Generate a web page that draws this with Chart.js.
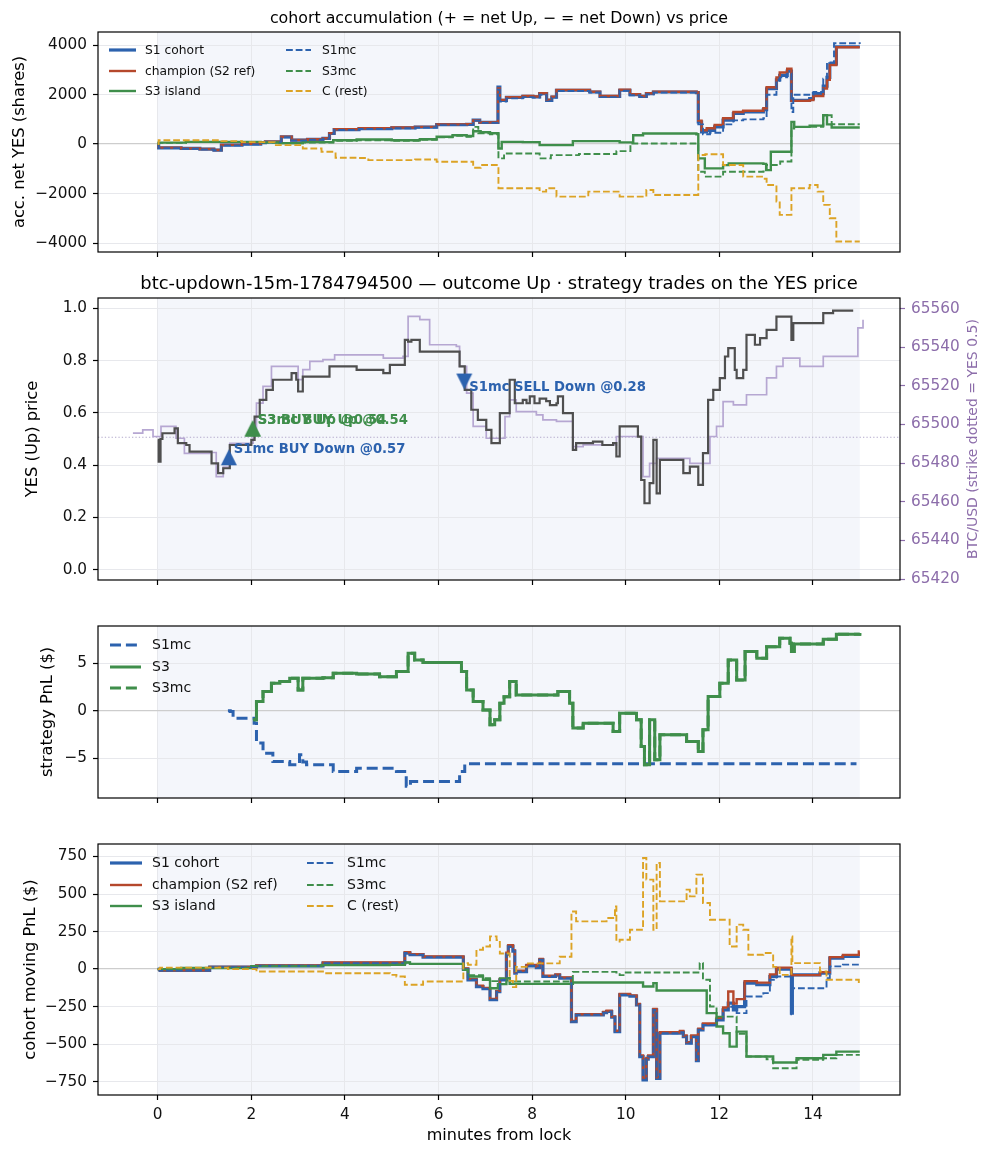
<!DOCTYPE html>
<html>
<head>
<meta charset="utf-8">
<script src="https://cdn.jsdelivr.net/npm/chart.js@4.4.1/dist/chart.umd.min.js"></script>
<style>
  html, body { margin: 0; padding: 0; background: #fff; }
  #wrap { position: relative; width: 993px; height: 1156px; overflow: hidden; }
  canvas { position: absolute; left: 0; }
</style>
</head>
<body>
<div id="wrap">
  <canvas id="c1" width="993" height="270" style="top:0px"></canvas>
  <canvas id="c2" width="993" height="336" style="top:262px"></canvas>
  <canvas id="c3" width="993" height="210" style="top:606px"></canvas>
  <canvas id="c4" width="993" height="336" style="top:820px"></canvas>
</div>
<script>
// ---- data: [minutes from lock, value] pairs ----
const xTicks = [0, 2, 4, 6, 8, 10, 12, 14];

// panel 1: cohort accumulation (shares)
const accS1 = [[0,0],[0.02,-150],[0.5,-175],[0.9,-200],[1.2,-240],[1.36,-40],[1.8,0],[2.2,60],[2.3,90],[2.64,295],[2.86,160],[3.2,190],[3.53,230],[3.67,430],[3.77,590],[4.3,630],[5.0,660],[5.5,690],[5.96,790],[6.6,800],[6.74,970],[6.88,880],[7.27,2310],[7.31,1770],[7.45,1890],[7.8,1930],[8.02,1910],[8.16,2040],[8.31,1770],[8.42,1900],[8.52,2180],[9.23,2110],[9.45,1930],[9.87,2180],[10.09,2000],[10.3,1930],[10.44,2040],[10.59,2110],[11.51,2080],[11.55,900],[11.62,490],[11.73,560],[11.9,700],[12.08,970],[12.3,1240],[12.51,1300],[12.94,1400],[13.01,2240],[13.22,2600],[13.29,2780],[13.45,2950],[13.54,1770],[13.93,1840],[14.01,2040],[14.22,2350],[14.3,2700],[14.36,3250],[14.5,3940],[15.0,3940]];
const accChamp = [[0,0],[0.02,-140],[0.5,-170],[0.9,-195],[1.2,-235],[1.36,-30],[1.8,10],[2.2,70],[2.3,100],[2.64,300],[2.86,170],[3.2,200],[3.53,240],[3.67,440],[3.77,600],[4.3,640],[5.0,670],[5.5,700],[5.96,800],[6.6,810],[6.74,960],[6.88,880],[7.27,2250],[7.31,1790],[7.45,1900],[7.8,1950],[8.02,1930],[8.16,2060],[8.31,1800],[8.42,1920],[8.52,2190],[9.23,2120],[9.45,1950],[9.87,2200],[10.09,2020],[10.3,1950],[10.44,2060],[10.59,2120],[11.51,2100],[11.55,950],[11.62,560],[11.73,640],[11.9,780],[12.08,1050],[12.3,1300],[12.51,1350],[12.94,1450],[13.01,2300],[13.22,2700],[13.29,2900],[13.45,3050],[13.54,1750],[13.93,1780],[14.01,1950],[14.22,2250],[14.3,2600],[14.36,3200],[14.5,3920],[15.0,3920]];
const accS1mc = [[0,0],[0.02,-160],[0.5,-185],[0.9,-210],[1.2,-250],[1.36,-50],[1.8,-10],[2.2,50],[2.3,80],[2.64,280],[2.86,150],[3.2,180],[3.53,220],[3.67,420],[3.77,570],[4.3,610],[5.0,640],[5.5,670],[5.96,770],[6.6,780],[6.74,950],[6.88,860],[7.27,2200],[7.31,1720],[7.45,1850],[7.8,1900],[8.02,1880],[8.16,2000],[8.31,1740],[8.42,1880],[8.52,2150],[9.23,2090],[9.45,1900],[9.87,2160],[10.09,1980],[10.3,1910],[10.44,2020],[10.59,2090],[11.51,2060],[11.55,800],[11.65,400],[11.8,460],[12.08,800],[12.3,960],[12.51,1000],[12.94,1050],[13.01,2000],[13.22,2500],[13.29,2700],[13.45,2850],[13.54,1300],[13.58,2000],[14.01,2110],[14.22,2650],[14.3,3300],[14.45,4080],[15.0,4050]];
const accS3 = [[0,0],[0.02,60],[0.6,90],[1.36,90],[2.2,70],[2.6,40],[3.1,80],[3.75,160],[4.25,190],[5.0,160],[5.6,200],[5.96,300],[6.3,360],[6.6,330],[6.74,520],[6.9,480],[7.1,440],[7.28,-175],[7.35,90],[7.8,80],[8.16,-40],[8.87,120],[9.87,70],[10.16,360],[10.37,430],[11.51,400],[11.55,-577],[11.69,-980],[12.08,-850],[12.2,-780],[12.94,-800],[13.0,-1050],[13.1,-310],[13.54,900],[13.6,700],[13.93,750],[14.22,1170],[14.3,800],[14.4,670],[15.0,670]];
const accS3mc = [[0,0],[0.02,50],[0.6,80],[1.36,80],[2.2,60],[2.6,30],[3.1,60],[3.75,130],[4.25,160],[5.0,140],[5.6,180],[5.96,280],[6.3,340],[6.6,300],[6.74,700],[6.85,440],[7.1,400],[7.28,-577],[7.4,-376],[8.16,-577],[8.4,-443],[9.0,-400],[9.8,-282],[10.1,27],[11.51,27],[11.55,-1115],[11.69,-1316],[12.08,-1115],[12.94,-1100],[13.01,-846],[13.3,-700],[13.54,630],[13.6,700],[14.22,1170],[14.4,806],[15.0,806]];
const accC = [[0,0],[0.02,160],[1.36,120],[1.8,80],[2.5,-40],[3.1,-175],[3.5,-310],[3.8,-550],[4.3,-560],[4.5,-645],[5.5,-620],[5.96,-712],[6.6,-712],[6.74,-954],[6.9,-846],[7.28,-1787],[8.16,-1920],[8.3,-1787],[8.52,-2122],[9.2,-1920],[9.87,-2122],[10.44,-1854],[10.59,-2055],[11.51,-2055],[11.55,-440],[11.7,-410],[12.08,-846],[12.51,-1316],[12.94,-1400],[13.01,-1652],[13.22,-2324],[13.29,-2861],[13.54,-1787],[13.93,-1652],[14.1,-1920],[14.22,-2458],[14.36,-2996],[14.5,-3936],[15.0,-3936]];

// panel 2: YES price (left) and BTC/USD (right)
const yesPrice = [[0,0.497],[0.02,0.413],[0.06,0.5],[0.1,0.522],[0.36,0.541],[0.43,0.484],[0.61,0.477],[0.68,0.452],[1.11,0.452],[1.15,0.407],[1.29,0.369],[1.4,0.388],[1.54,0.477],[1.9,0.477],[2.0,0.497],[2.07,0.586],[2.18,0.65],[2.32,0.688],[2.46,0.727],[2.82,0.727],[2.86,0.752],[2.96,0.727],[3.0,0.682],[3.1,0.739],[3.53,0.739],[3.67,0.778],[4.03,0.778],[4.25,0.765],[4.82,0.752],[4.96,0.784],[5.17,0.784],[5.28,0.88],[5.35,0.873],[5.42,0.88],[5.6,0.835],[6.38,0.835],[6.45,0.778],[6.56,0.688],[6.7,0.612],[6.84,0.573],[7.02,0.535],[7.13,0.484],[7.24,0.484],[7.31,0.599],[7.45,0.599],[7.52,0.727],[7.63,0.637],[7.8,0.65],[7.88,0.637],[7.95,0.663],[8.05,0.637],[8.16,0.655],[8.3,0.645],[8.38,0.63],[8.52,0.637],[8.55,0.663],[8.66,0.599],[8.87,0.458],[8.94,0.484],[9.3,0.49],[9.5,0.477],[9.73,0.484],[9.8,0.433],[9.87,0.548],[10.16,0.548],[10.26,0.509],[10.33,0.343],[10.4,0.254],[10.51,0.331],[10.59,0.497],[10.66,0.292],[10.73,0.42],[11.16,0.42],[11.23,0.369],[11.37,0.394],[11.51,0.394],[11.55,0.324],[11.65,0.446],[11.76,0.65],[11.87,0.688],[12.01,0.733],[12.12,0.816],[12.19,0.848],[12.33,0.765],[12.37,0.733],[12.51,0.765],[12.58,0.899],[12.76,0.861],[12.87,0.886],[13.01,0.918],[13.22,0.969],[13.51,0.969],[13.54,0.88],[13.58,0.944],[13.93,0.944],[14.22,0.982],[14.43,0.992],[14.86,0.992]];
const btcUsd = [[-0.53,65495.5],[-0.32,65497.2],[-0.1,65493.8],[0.07,65499.0],[0.25,65499.0],[0.39,65492.9],[0.57,65485.1],[1.11,65485.5],[1.25,65473.0],[1.4,65478.0],[1.54,65490.3],[1.83,65490.3],[2.04,65497.2],[2.11,65511.1],[2.25,65519.7],[2.43,65530.1],[2.89,65530.1],[3.0,65523.2],[3.1,65528.4],[3.25,65532.7],[3.53,65533.6],[3.78,65536.1],[4.6,65536.1],[4.82,65534.4],[5.1,65534.4],[5.24,65535.3],[5.35,65556.0],[5.6,65554.3],[5.81,65541.3],[6.38,65540.5],[6.45,65530.1],[6.6,65516.3],[6.74,65499.0],[7.02,65492.9],[7.42,65504.1],[7.52,65512.8],[7.66,65506.7],[7.95,65506.7],[8.09,65505.0],[8.23,65502.4],[8.52,65501.6],[8.87,65488.6],[9.09,65489.5],[9.66,65489.5],[9.8,65493.8],[10.23,65493.8],[10.37,65473.0],[10.51,65479.9],[10.66,65482.5],[11.23,65482.5],[11.37,65479.9],[11.65,65479.9],[11.8,65493.8],[11.94,65499.0],[12.08,65511.9],[12.3,65510.2],[12.58,65515.4],[12.87,65515.4],[13.01,65524.1],[13.22,65530.1],[13.36,65534.4],[13.51,65534.4],[13.72,65530.1],[14.07,65530.1],[14.22,65535.3],[14.93,65535.3],[14.96,65550.0],[15.07,65554.3]];
const strikeUsd = 65493.4;
const yesTicks = [0, 0.2, 0.4, 0.6, 0.8, 1.0];
const btcTicks = [65420, 65440, 65460, 65480, 65500, 65520, 65540, 65560];

// trades marked on the YES price
const tradeT = [1.52, 2.03, 2.03, 6.55];
const tradeY = [0.43, 0.54, 0.54, 0.72];
const tradeWho = ['S1mc', 'S3', 'S3mc', 'S1mc'];
const tradeSide = ['up', 'up', 'up', 'down'];
const tradeText = ['S1mc BUY Down @0.57', 'S3 BUY Up @0.54', 'S3mc BUY Up @0.54', 'S1mc SELL Down @0.28'];

// panel 3: strategy PnL ($)
const stratS1mc = [[1.5,0],[1.55,-0.07],[1.61,-0.77],[2.04,-0.77],[2.06,-1.3],[2.11,-3.4],[2.25,-4.46],[2.46,-5.33],[2.82,-5.68],[3.03,-4.63],[3.1,-5.4],[3.18,-5.68],[3.75,-6.39],[4.2,-6.39],[4.25,-6.04],[4.96,-6.04],[5.1,-6.39],[5.31,-7.96],[5.4,-7.44],[6.38,-7.44],[6.45,-6.39],[6.56,-5.58],[14.93,-5.58]];
const stratS3 = [[2.04,-0.95],[2.11,0.98],[2.25,2.04],[2.43,2.91],[2.61,3.09],[2.82,3.44],[3.0,2.21],[3.1,3.44],[3.53,3.5],[3.75,3.96],[4.1,3.96],[4.25,3.89],[4.6,3.9],[4.74,3.61],[4.96,3.61],[5.1,4.14],[5.35,6.07],[5.49,5.37],[5.67,5.09],[6.38,5.09],[6.49,4.14],[6.6,2.21],[6.74,0.98],[6.95,0.1],[7.1,-1.47],[7.2,-0.95],[7.31,0.81],[7.4,1.5],[7.52,3.09],[7.66,1.68],[8.52,1.68],[8.55,2.04],[8.8,0.81],[8.87,-1.82],[9.09,-1.3],[9.52,-1.3],[9.73,-2.18],[9.87,-0.25],[10.09,-0.25],[10.23,-0.95],[10.33,-3.75],[10.4,-5.68],[10.51,-0.95],[10.62,-5.16],[10.73,-2.53],[11.16,-2.53],[11.3,-3.23],[11.51,-3.23],[11.55,-4.28],[11.65,-2.0],[11.76,1.51],[12.01,2.91],[12.19,5.37],[12.37,3.26],[12.55,6.25],[12.8,5.54],[13.01,6.77],[13.29,7.65],[13.51,7.12],[13.54,6.25],[13.6,7.05],[13.93,7.05],[14.22,7.54],[14.5,8.07],[15.0,8.2]];
const stratS3mc = stratS3; // S3mc sits exactly under S3 in the picture

// panel 4: cohort moving PnL ($)
const pnlS1 = [[0,0],[0.05,-9],[0.61,-9],[1.11,13],[2.11,22],[3.53,40],[4.96,40],[5.28,107],[5.39,96],[5.67,80],[6.45,80],[6.53,0],[6.63,-71],[6.81,-116],[6.95,-130],[7.1,-204],[7.24,-150],[7.31,-71],[7.45,100],[7.49,151],[7.59,120],[7.63,-27],[7.66,-16],[7.88,22],[8.09,10],[8.16,62],[8.23,-49],[8.5,-40],[8.59,-60],[8.84,-349],[8.94,-304],[9.52,-290],[9.59,-282],[9.7,-320],[9.77,-416],[9.87,-171],[10.09,-180],[10.23,-238],[10.3,-582],[10.37,-738],[10.44,-600],[10.48,-582],[10.59,-271],[10.66,-727],[10.73,-427],[11.16,-420],[11.23,-450],[11.3,-493],[11.4,-450],[11.51,-610],[11.55,-404],[11.65,-371],[11.94,-338],[12.08,-271],[12.19,-227],[12.3,-271],[12.37,-249],[12.54,-93],[12.8,-104],[13.08,-49],[13.22,0],[13.51,0],[13.54,-293],[13.56,-38],[14.15,-27],[14.36,73],[14.64,84],[15.0,84]];
const pnlChamp = [[0,0],[0.05,-7],[0.61,-7],[1.11,15],[2.11,25],[3.53,44],[4.96,44],[5.28,112],[5.39,100],[5.67,84],[6.45,84],[6.53,4],[6.63,-65],[6.81,-110],[6.95,-125],[7.1,-198],[7.24,-145],[7.31,-66],[7.45,110],[7.49,160],[7.59,125],[7.63,-20],[7.66,-10],[7.88,28],[8.09,15],[8.16,68],[8.23,-44],[8.5,-35],[8.59,-55],[8.84,-345],[8.94,-300],[9.52,-285],[9.59,-276],[9.7,-315],[9.77,-410],[9.87,-165],[10.09,-175],[10.23,-232],[10.3,-575],[10.37,-730],[10.44,-592],[10.48,-575],[10.59,-265],[10.66,-720],[10.73,-420],[11.16,-412],[11.23,-442],[11.3,-486],[11.4,-442],[11.51,-602],[11.55,-396],[11.65,-362],[11.94,-325],[12.08,-255],[12.19,-149],[12.3,-230],[12.37,-200],[12.54,-80],[12.8,-90],[13.08,-35],[13.22,10],[13.51,10],[13.54,-40],[14.15,-20],[14.36,80],[14.64,95],[14.98,118],[15.0,118]];
const pnlS1mc = [[0,0],[0.05,-9],[0.61,-9],[1.11,13],[2.11,22],[3.53,40],[4.96,40],[5.28,107],[5.39,96],[5.67,80],[6.45,80],[6.53,0],[6.63,-71],[6.81,-116],[6.95,-130],[7.1,-204],[7.24,-150],[7.31,-71],[7.45,100],[7.49,151],[7.59,120],[7.63,-27],[7.66,-16],[7.88,22],[8.09,10],[8.16,62],[8.23,-49],[8.5,-40],[8.59,-60],[8.84,-349],[8.94,-304],[9.52,-290],[9.59,-282],[9.7,-320],[9.77,-416],[9.87,-171],[10.09,-180],[10.23,-238],[10.3,-582],[10.37,-738],[10.44,-600],[10.48,-582],[10.59,-271],[10.66,-727],[10.73,-427],[11.16,-420],[11.23,-450],[11.3,-493],[11.4,-450],[11.51,-610],[11.55,-404],[11.65,-371],[11.94,-338],[12.08,-271],[12.19,-250],[12.37,-293],[12.58,-182],[12.94,-160],[13.08,-71],[13.22,-49],[13.51,-49],[13.54,-300],[13.56,-127],[14.15,-127],[14.29,-60],[14.36,18],[14.64,30],[15.0,30]];
const pnlS3 = [[0,0],[0.5,7],[2,20],[3.5,27],[4.96,29],[5.28,44],[5.39,35],[6.45,35],[6.53,-4],[6.63,-49],[6.95,-71],[7.1,-127],[7.27,-100],[7.45,-60],[7.52,-98],[8.87,-89],[10.3,-89],[10.37,-116],[10.59,-93],[10.66,-142],[11.65,-142],[11.73,-293],[11.94,-382],[12.08,-427],[12.22,-516],[12.37,-416],[12.58,-582],[13.01,-582],[13.15,-622],[13.51,-622],[13.65,-593],[14.07,-593],[14.22,-571],[14.5,-549],[15.0,-549]];
const pnlS3mc = [[0,0],[0.5,7],[2,20],[3.5,27],[4.96,29],[5.28,44],[5.39,35],[6.45,35],[6.53,-4],[6.63,-40],[6.95,-60],[7.1,-80],[7.31,-60],[7.52,-82],[8.8,-82],[8.87,-18],[9.8,-22],[9.87,-40],[10.0,-22],[11.51,-22],[11.58,40],[11.65,-71],[11.8,-249],[11.94,-316],[12.22,-316],[12.37,-430],[12.58,-582],[13.01,-600],[13.15,-660],[13.51,-660],[13.65,-604],[14.22,-593],[14.5,-571],[15.0,-571]];
const pnlC = [[0,0],[0.05,10],[1.5,0],[2.11,-16],[3.53,-27],[4.96,-38],[5.1,-49],[5.28,-104],[5.67,-82],[6.45,-82],[6.53,40],[6.63,29],[6.81,129],[6.95,151],[7.1,218],[7.24,193],[7.31,104],[7.52,-78],[7.59,-120],[7.66,15],[7.88,38],[8.59,82],[8.84,384],[8.94,318],[9.52,318],[9.59,340],[9.77,418],[9.8,184],[9.87,196],[10.09,262],[10.3,262],[10.37,740],[10.44,596],[10.59,262],[10.66,707],[10.73,451],[11.16,451],[11.3,529],[11.37,484],[11.51,629],[11.65,440],[11.8,329],[12.08,329],[12.22,151],[12.37,296],[12.51,262],[12.62,96],[12.94,107],[13.15,15],[13.29,-38],[13.51,-38],[13.54,218],[13.56,40],[14.15,-16],[14.29,-71],[14.79,-71],[14.98,-96],[15.0,-96]];

// ---- look ----
const FONT = 'DejaVu Sans';
Chart.defaults.font.family = FONT;
Chart.defaults.font.size = 15.3;
Chart.defaults.color = '#111';

const BLUE = '#2c62ae', RED = '#b5482c', GREEN = '#3f8e4b', GOLD = '#dca325';
const DARK = '#4f4f4f', LILAC = '#b6a7d2', PURPLE = '#8c6daa';
const GRID = '#e7e8ec', ZERO = '#cdcdcd', SPAN = '#f4f6fb';
const X_MIN = -1.276, X_MAX = 15.86, SPAN_FROM = 0, SPAN_TO = 15;
const DASH = [6.8, 2.9], DASH_WIDE = [11, 4.9];
const LABEL_SIZE = 16.3;

const pts = a => a.map(([x, y]) => ({ x, y }));
const minus = v => (v < 0 ? '\u2212' : '') + Math.abs(v);

function line(label, data, color, width, dash, order, axis) {
  return {
    label, data: pts(data), borderColor: color, backgroundColor: color,
    borderWidth: width, borderDash: dash || [], stepped: true,
    pointRadius: 0, fill: false, order, yAxisID: axis || 'y',
    borderCapStyle: 'butt', borderJoinStyle: 'miter'
  };
}

function triangle(color, down) {
  const c = document.createElement('canvas');
  c.width = 18; c.height = 18;
  const g = c.getContext('2d');
  g.fillStyle = color;
  g.beginPath();
  if (down) { g.moveTo(1, 1); g.lineTo(17, 1); g.lineTo(9, 17); }
  else { g.moveTo(9, 1); g.lineTo(17, 17); g.lineTo(1, 17); }
  g.closePath();
  g.fill();
  return c;
}
const whoColor = w => (w === 'S1mc' ? BLUE : GREEN);

function xAxis(labels, title) {
  return {
    type: 'linear', min: X_MIN, max: X_MAX, bounds: 'data',
    afterBuildTicks: s => { s.ticks = xTicks.map(v => ({ value: v })); },
    afterFit: s => { s.height = labels ? 61 : 18; },
    grid: { color: GRID, lineWidth: 1, tickColor: '#000', tickLength: 5, tickWidth: 1.2 },
    border: { display: false },
    ticks: { display: labels, padding: 6, autoSkip: false, maxRotation: 0, callback: v => String(v) },
    title: title ? { display: true, text: title, padding: 10.4, color: '#000', font: { size: 16 } } : { display: false }
  };
}

function yAxis(min, max, ticks, fmt, title, center, zero) {
  return {
    type: 'linear', position: 'left', min, max, bounds: 'data',
    afterBuildTicks: s => { s.ticks = ticks.map(v => ({ value: v })); },
    afterFit: s => { s.width = 98; },
    grid: {
      color: c => (zero && c.tick && c.tick.value === 0 ? ZERO : GRID),
      lineWidth: c => (zero && c.tick && c.tick.value === 0 ? 1.3 : 1),
      tickColor: '#000', tickLength: 5, tickWidth: 1.2
    },
    border: { display: false },
    ticks: { padding: 6, autoSkip: false, callback: fmt },
    title: { display: true, text: title, padding: center - LABEL_SIZE * 0.6, color: '#000', font: { size: LABEL_SIZE } }
  };
}

// per-panel decorations: span, frame, title, legend, trade labels
const panelCfg = {
  c1: { title: 'cohort accumulation (+ = net Up, \u2212 = net Down) vs price', titleSize: 15.8,
        legend: { size: 12.3, rowY: [18, 39, 59], cols: [[11, 38, 47], [188, 213, 224]],
                  items: [['S1 cohort', 'champion (S2 ref)', 'S3 island'], ['S1mc', 'S3mc', 'C (rest)']] } },
  c2: { title: 'btc-updown-15m-1784794500 \u2014 outcome Up \u00b7 strategy trades on the YES price', titleSize: 17.9,
        rightTitle: 'BTC/USD (strike dotted = YES 0.5)', trades: true },
  c3: { legend: { size: 14, rowY: [19, 41, 62], cols: [[12, 43, 54]], items: [['S1mc', 'S3', 'S3mc']] } },
  c4: { legend: { size: 14, rowY: [19, 41, 62], cols: [[12, 44, 54], [209, 237, 249]],
                  items: [['S1 cohort', 'champion (S2 ref)', 'S3 island'], ['S1mc', 'S3mc', 'C (rest)']] } }
};

const panelPlugin = {
  id: 'panel',
  beforeDraw(chart) {
    const { ctx, chartArea: a, scales: { x } } = chart;
    const x0 = x.getPixelForValue(SPAN_FROM), x1 = x.getPixelForValue(SPAN_TO);
    ctx.save();
    ctx.fillStyle = SPAN;
    ctx.fillRect(x0, a.top, x1 - x0, a.bottom - a.top);
    ctx.restore();
  },
  afterDraw(chart) {
    const o = panelCfg[chart.canvas.id];
    const { ctx, chartArea: a, scales } = chart;
    ctx.save();
    ctx.strokeStyle = '#000';
    ctx.lineWidth = 1.2;
    ctx.strokeRect(a.left, a.top, a.right - a.left, a.bottom - a.top);

    if (o.title) {
      ctx.font = o.titleSize + 'px "' + FONT + '"';
      ctx.fillStyle = '#000';
      ctx.textAlign = 'center';
      ctx.textBaseline = 'alphabetic';
      ctx.fillText(o.title, (a.left + a.right) / 2, a.top - 9);
    }

    if (o.legend) {
      const L = o.legend;
      ctx.font = L.size + 'px "' + FONT + '"';
      ctx.textAlign = 'left';
      ctx.textBaseline = 'middle';
      L.items.forEach((col, ci) => col.forEach((label, ri) => {
        const ds = chart.data.datasets.find(d => d.label === label);
        const [h0, h1, tx] = L.cols[ci];
        const y = a.top + L.rowY[ri];
        ctx.beginPath();
        ctx.strokeStyle = ds.borderColor;
        ctx.lineWidth = ds.borderWidth;
        ctx.setLineDash(ds.borderDash || []);
        ctx.moveTo(a.left + h0, y);
        ctx.lineTo(a.left + h1, y);
        ctx.stroke();
        ctx.setLineDash([]);
        ctx.fillStyle = '#111';
        ctx.fillText(label, a.left + tx, y + 0.5);
      }));
    }

    if (o.trades) {
      ctx.font = 'bold 13.2px "' + FONT + '"';
      ctx.textAlign = 'left';
      ctx.textBaseline = 'middle';
      tradeT.forEach((t, i) => {
        const px = scales.x.getPixelForValue(t), py = scales.y.getPixelForValue(tradeY[i]);
        ctx.fillStyle = whoColor(tradeWho[i]);
        ctx.fillText(tradeText[i], px + 5, py + (tradeSide[i] === 'down' ? 6 : -8));
      });
    }

    if (o.rightTitle) {
      ctx.translate(973, (a.top + a.bottom) / 2);
      ctx.rotate(-Math.PI / 2);
      ctx.font = '14px "' + FONT + '"';
      ctx.fillStyle = PURPLE;
      ctx.textAlign = 'center';
      ctx.textBaseline = 'middle';
      ctx.fillText(o.rightTitle, 0, 0);
    }
    ctx.restore();
  }
};

function baseOptions(padding, scales) {
  return {
    responsive: false, animation: false, devicePixelRatio: 1, events: [],
    layout: { padding },
    plugins: { legend: { display: false }, tooltip: { enabled: false } },
    scales
  };
}

function cohortSets(s1, champ, s3, s1mc, s3mc, c) {
  return [
    line('S1 cohort', s1, BLUE, 3.2, null, 6),
    line('champion (S2 ref)', champ, RED, 2.4, null, 5),
    line('S3 island', s3, GREEN, 2.4, null, 4),
    line('S1mc', s1mc, BLUE, 1.9, DASH, 3),
    line('S3mc', s3mc, GREEN, 1.9, DASH, 2),
    line('C (rest)', c, GOLD, 1.9, DASH, 1)
  ];
}

// panel 1
new Chart(document.getElementById('c1'), {
  type: 'line',
  data: { datasets: cohortSets(accS1, accChamp, accS3, accS1mc, accS3mc, accC) },
  options: baseOptions({ top: 32, left: 0, right: 93, bottom: 0 }, {
    x: xAxis(false),
    y: yAxis(-4363, 4536, [-4000, -2000, 0, 2000, 4000], minus, 'acc. net YES (shares)', 20, true)
  }),
  plugins: [panelPlugin]
});

// panel 2
new Chart(document.getElementById('c2'), {
  type: 'line',
  data: { datasets: [
    { label: 'trades', data: tradeT.map((t, i) => ({ x: t, y: tradeY[i] })), showLine: false,
      pointStyle: tradeT.map((t, i) => triangle(whoColor(tradeWho[i]), tradeSide[i] === 'down')),
      pointRadius: 8, order: 0, yAxisID: 'y' },
    line('YES (Up) price', yesPrice, DARK, 2.2, null, 2),
    line('BTC/USD', btcUsd, LILAC, 1.7, null, 3, 'y2'),
    { label: 'strike', data: [{ x: X_MIN, y: strikeUsd }, { x: X_MAX, y: strikeUsd }], borderColor: '#b3a9cc',
      borderWidth: 1.2, borderDash: [1.3, 2.1], pointRadius: 0, fill: false, order: 4, yAxisID: 'y2' }
  ] },
  options: baseOptions({ top: 36, left: 0, right: 0, bottom: 0 }, {
    x: xAxis(false),
    y: yAxis(-0.04, 1.04, yesTicks, v => v.toFixed(1), 'YES (Up) price', 33, false),
    y2: {
      type: 'linear', position: 'right', min: 65419.5, max: 65565.5, bounds: 'data',
      afterBuildTicks: s => { s.ticks = btcTicks.map(v => ({ value: v })); },
      afterFit: s => { s.width = 93; },
      grid: { drawOnChartArea: false, tickColor: PURPLE, tickLength: 5, tickWidth: 1.2 },
      border: { display: false },
      ticks: { color: PURPLE, padding: 6, autoSkip: false, callback: v => String(v) }
    }
  }),
  plugins: [panelPlugin]
});

// panel 3
new Chart(document.getElementById('c3'), {
  type: 'line',
  data: { datasets: [
    line('S1mc', stratS1mc, BLUE, 3, DASH_WIDE, 3),
    line('S3', stratS3, GREEN, 3, null, 2),
    line('S3mc', stratS3mc, GREEN, 3, DASH_WIDE, 1)
  ] },
  options: baseOptions({ top: 20, left: 0, right: 93, bottom: 0 }, {
    x: xAxis(false),
    y: yAxis(-9.19, 8.95, [-5, 0, 5], minus, 'strategy PnL ($)', 48, true)
  }),
  plugins: [panelPlugin]
});

// panel 4
new Chart(document.getElementById('c4'), {
  type: 'line',
  data: { datasets: cohortSets(pnlS1, pnlChamp, pnlS3, pnlS1mc, pnlS3mc, pnlC) },
  options: baseOptions({ top: 24, left: 0, right: 93, bottom: 0 }, {
    x: xAxis(true, 'minutes from lock'),
    y: yAxis(-838, 833, [-750, -500, -250, 0, 250, 500, 750], minus, 'cohort moving PnL ($)', 31, true)
  }),
  plugins: [panelPlugin]
});
</script>
</body>
</html>
